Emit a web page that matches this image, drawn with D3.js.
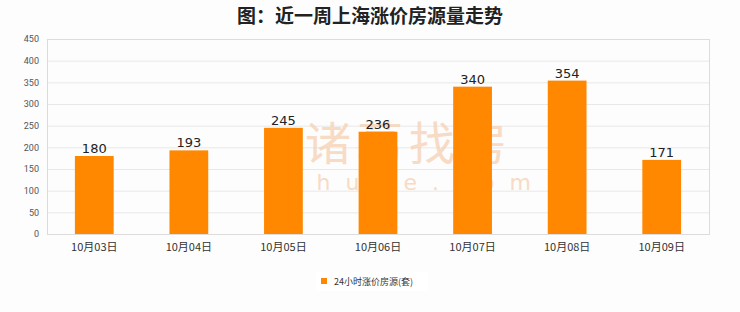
<!DOCTYPE html>
<html>
<head>
<meta charset="utf-8">
<script src="https://cdn.jsdelivr.net/npm/d3@7"></script>
<style>
  body { margin: 0; background: #fdfdfd; }
  svg { display: block; }
</style>
</head>
<body>
<svg id="chart" width="740" height="312"></svg>
<script>
// data
var dates = ["10月03日", "10月04日", "10月05日", "10月06日", "10月07日", "10月08日", "10月09日"];
var counts = [180, 193, 245, 236, 340, 354, 171];
var yTicks = [0, 50, 100, 150, 200, 250, 300, 350, 400, 450];
var seriesName = "24小时涨价房源(套)";
var title = "图：近一周上海涨价房源量走势";

var svg = d3.select("#chart");
var pLeft = 47, pRight = 709, pTop = 39, pBottom = 234;

var x = d3.scaleBand().domain(dates).range([pLeft, pRight]).paddingInner(0.59).paddingOuter(0.295);
var y = d3.scaleLinear().domain([0, 450]).range([pBottom, pTop]);

svg.append("rect").attr("width", 740).attr("height", 312).attr("fill", "#fdfdfd");

// title
svg.append("text")
  .attr("x", 370).attr("y", 23)
  .attr("text-anchor", "middle")
  .attr("font-family", "Noto Sans CJK SC")
  .attr("font-weight", "bold")
  .attr("font-size", 19)
  .attr("fill", "#222")
  .text(title);

// grid
svg.append("g").selectAll("line").data(yTicks).enter().append("line")
  .attr("x1", pLeft).attr("x2", pRight)
  .attr("y1", function(d){ return y(d) + 0.5; }).attr("y2", function(d){ return y(d) + 0.5; })
  .attr("stroke", "#e8e8e8");

// frame
svg.append("rect")
  .attr("x", pLeft + 0.5).attr("y", pTop + 0.5)
  .attr("width", pRight - pLeft).attr("height", pBottom - pTop)
  .attr("fill", "none").attr("stroke", "#dcdcdc");

// watermark
var wm = svg.append("g").attr("fill", "#f7d3b6").attr("opacity", 0.8);
wm.append("text").attr("x", 305).attr("y", 160)
  .attr("font-family", "Noto Sans CJK SC").attr("font-size", 46)
  .attr("letter-spacing", 6).text("诸葛找房");
wm.append("text").attr("x", 290).attr("y", 190)
  .attr("font-family", "DejaVu Sans").attr("font-size", 22)
  .attr("letter-spacing", 15).text("zhuge.com");

// y axis
var yAxis = d3.axisLeft(y).tickValues(yTicks).tickSize(0).tickPadding(8);
var gy = svg.append("g").attr("transform", "translate(" + pLeft + ",0)").call(yAxis);
gy.select(".domain").remove();
gy.selectAll("text").attr("font-family", "Roboto").attr("font-size", 9).attr("fill", "#555");

// x axis
var xAxis = d3.axisBottom(x).tickSize(0).tickPadding(9);
var gx = svg.append("g").attr("transform", "translate(0," + pBottom + ")").call(xAxis);
gx.select(".domain").remove();
gx.selectAll("text").attr("font-family", "Noto Sans CJK SC").attr("font-size", 11).attr("fill", "#333");

// bars
svg.append("g").selectAll("rect").data(counts).enter().append("rect")
  .attr("x", function(d, i){ return x(dates[i]); })
  .attr("y", function(d){ return y(d); })
  .attr("width", x.bandwidth())
  .attr("height", function(d){ return pBottom - y(d); })
  .attr("fill", "#ff8800");

svg.append("g").selectAll("text").data(counts).enter().append("text")
  .attr("x", function(d, i){ return x(dates[i]) + x.bandwidth() / 2; })
  .attr("y", function(d){ return y(d) - 3; })
  .attr("text-anchor", "middle")
  .attr("font-family", "DejaVu Sans").attr("font-size", 13)
  .attr("fill", "#222")
  .text(function(d){ return d; });

// legend
var lg = svg.append("g");
lg.append("rect").attr("x", 316).attr("y", 272).attr("width", 112).attr("height", 19).attr("fill", "#fff");
lg.append("rect").attr("x", 321).attr("y", 278).attr("width", 6).attr("height", 6).attr("fill", "#ff8800");
lg.append("text").attr("x", 334).attr("y", 285)
  .attr("font-family", "Noto Sans CJK SC").attr("font-size", 9).attr("fill", "#333")
  .text(seriesName);
</script>
</body>
</html>
